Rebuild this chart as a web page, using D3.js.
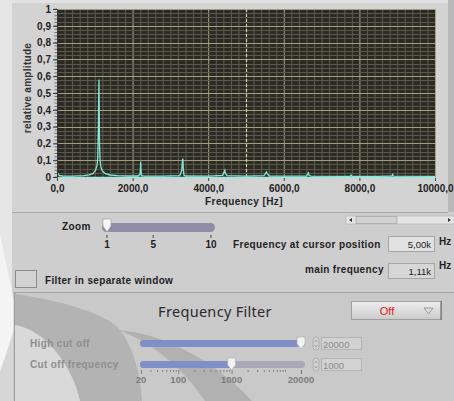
<!DOCTYPE html>
<html>
<head>
<meta charset="utf-8">
<script src="https://cdn.jsdelivr.net/npm/d3@7"></script>
<style>
  body { margin: 0; background: #cdcdcd; }
  svg { display: block; }
</style>
</head>
<body>
<svg id="chart" width="454" height="401"></svg>
<script>
// spectrum (Hz, relative amplitude)
const freqs = [0, 20, 60, 150, 400, 700, 850, 950, 1020, 1060, 1080, 1095, 1105, 1110, 1115, 1125, 1140, 1160, 1200, 1280, 1400, 1600, 1900, 2150, 2200, 2215, 2225, 2240, 2300, 2800, 3250, 3300, 3320, 3330, 3340, 3360, 3400, 4000, 4380, 4420, 4440, 4460, 4500, 5000, 5480, 5540, 5560, 5620, 6000, 6600, 6650, 6670, 6720, 7500, 7760, 7780, 7800, 8500, 8860, 8880, 8900, 10000];
const amps = [0.04, 0.02, 0.01, 0.006, 0.005, 0.008, 0.012, 0.02, 0.04, 0.07, 0.12, 0.3, 0.5, 0.58, 0.45, 0.2, 0.1, 0.06, 0.035, 0.02, 0.012, 0.008, 0.006, 0.006, 0.02, 0.09, 0.03, 0.008, 0.005, 0.005, 0.008, 0.04, 0.1, 0.11, 0.05, 0.01, 0.006, 0.005, 0.01, 0.03, 0.04, 0.02, 0.008, 0.005, 0.008, 0.03, 0.02, 0.006, 0.005, 0.006, 0.025, 0.01, 0.005, 0.004, 0.004, 0.012, 0.004, 0.004, 0.006, 0.015, 0.005, 0.004];

const xTicks = [0, 2000, 4000, 6000, 8000, 10000];
const yTicks = [0, 0.1, 0.2, 0.3, 0.4, 0.5, 0.6, 0.7, 0.8, 0.9, 1];
const cursorFreq = 5000;
const cursorText = "5,00k";
const mainFreqText = "1,11k";

const zoomTicks = [1, 5, 10];
const zoomValue = 1;
const filterLabels = [20, 100, 1000, 20000];
const highCutOff = 20000;
const cutOffFreq = 1000;

const svg = d3.select("#chart");
const bold = "'Liberation Sans', Arial, sans-serif";

// ---------- backgrounds ----------
svg.append("rect").attr("x", 0).attr("y", 0).attr("width", 454).attr("height", 401).attr("fill", "#cdcdcd");
svg.append("rect").attr("x", 0).attr("y", 0).attr("width", 12).attr("height", 401).attr("fill", "#e6e6e6");
svg.append("path").attr("d", "M0,235 L14,300 L14,401 L0,401 Z").attr("fill", "#f4f4f4");
svg.append("path").attr("d", "M0,372 L14,330 L14,401 L0,401 Z").attr("fill", "#d6d6d6");
svg.append("rect").attr("x", 12).attr("y", 0).attr("width", 436).attr("height", 212).attr("fill", "#d3d3d3");
svg.append("rect").attr("x", 12).attr("y", 0).attr("width", 436).attr("height", 3).attr("fill", "#e2e2e2");
svg.append("rect").attr("x", 448).attr("y", 0).attr("width", 6).attr("height", 212).attr("fill", "#b9b9b9");
svg.append("line").attr("x1", 12).attr("x2", 448).attr("y1", 212.5).attr("y2", 212.5).attr("stroke", "#a9a9a9");
svg.append("rect").attr("x", 12).attr("y", 213).attr("width", 442).attr("height", 79).attr("fill", "#cecece");

// lower panel with watermark swooshes
svg.append("rect").attr("x", 14).attr("y", 292).attr("width", 440).attr("height", 109).attr("fill", "#c9c9c9");
svg.append("line").attr("x1", 14).attr("x2", 454).attr("y1", 292.5).attr("y2", 292.5).attr("stroke", "#a5a5a5");
svg.append("line").attr("x1", 14.5).attr("x2", 14.5).attr("y1", 292).attr("y2", 401).attr("stroke", "#9d9d9d").attr("stroke-width", 1.5);
svg.append("path")
    .attr("d", "M15,294 C60,300 110,315 120,330 C135,350 140,375 142,401 L80,401 C72,365 45,330 15,325 Z")
    .attr("fill", "#b3b3b3");
svg.append("path")
    .attr("d", "M15,325 C45,330 72,365 80,401 L15,401 Z")
    .attr("fill", "#d9d9d9");
svg.append("path")
    .attr("d", "M117,330 C160,332 215,360 252,401 L205,401 C185,370 150,340 117,330 Z")
    .attr("fill", "#b1b1b1");

// ---------- spectrum graph ----------
const x = d3.scaleLinear().domain([0, 10000]).range([57, 435]);
const y = d3.scaleLinear().domain([0, 1]).range([177, 9]);

svg.append("rect").attr("x", x(0)).attr("y", y(1)).attr("width", x(10000) - x(0)).attr("height", y(0) - y(1))
    .attr("fill", "#2b2a25");

const grid = svg.append("g");
grid.selectAll(".vmin").data(d3.range(0, 10001, 200)).join("line")
    .attr("x1", d => x(d) + 0.5).attr("x2", d => x(d) + 0.5)
    .attr("y1", y(1)).attr("y2", y(0))
    .attr("stroke", d => d % 2000 === 0 ? "#a8a482" : "#5f5d49")
    .attr("stroke-width", 1);
grid.selectAll(".hmin").data(d3.range(0, 41).map(i => i * 0.025)).join("line")
    .attr("x1", x(0)).attr("x2", x(10000))
    .attr("y1", d => Math.round(y(d)) + 0.5).attr("y2", d => Math.round(y(d)) + 0.5)
    .attr("stroke", (d, i) => i % 4 === 0 ? "#a19e7c" : "#58574a")
    .attr("stroke-width", 1);

// cursor
svg.append("line")
    .attr("x1", x(cursorFreq) + 0.5).attr("x2", x(cursorFreq) + 0.5)
    .attr("y1", y(1)).attr("y2", y(0))
    .attr("stroke", "#d6d3a8").attr("stroke-width", 1.2).attr("stroke-dasharray", "3,2");

const line = d3.line().x((d, i) => x(freqs[i])).y(d => y(d));
svg.append("path")
    .attr("d", line(amps))
    .attr("fill", "none")
    .attr("stroke", "#86e6d6")
    .attr("stroke-width", 1.3);
svg.append("line").attr("x1", x(0)).attr("x2", x(10000)).attr("y1", y(0) + 0.5).attr("y2", y(0) + 0.5)
    .attr("stroke", "#9fe8e0").attr("stroke-width", 1.5);

// axes
const yAxis = d3.axisLeft(y).tickValues(yTicks).tickSize(4)
    .tickFormat(d => d3.format(".1~f")(d).replace(".", ","));
const gy = svg.append("g").attr("transform", `translate(${x(0)},0)`).call(yAxis);
gy.select(".domain").attr("stroke", "#333");
gy.selectAll(".tick line").attr("stroke", "#333");
gy.selectAll("text").attr("font-family", bold).attr("font-weight", "bold").attr("font-size", 10)
    .attr("fill", "#222").attr("x", -6);
svg.append("g").selectAll("line")
    .data(d3.range(0, 51).map(i => i * 0.02))
    .join("line")
    .attr("x1", x(0) - 2.5).attr("x2", x(0))
    .attr("y1", d => y(d)).attr("y2", d => y(d))
    .attr("stroke", "#444").attr("stroke-width", 0.7);

const xAxis = d3.axisBottom(x).tickValues(xTicks).tickSize(3)
    .tickFormat(d => d3.format(".1f")(d).replace(".", ","));
const gx = svg.append("g").attr("transform", `translate(0,${y(0) + 1})`).call(xAxis);
gx.select(".domain").remove();
gx.selectAll(".tick line").attr("stroke", "#444");
gx.selectAll("text").attr("font-family", bold).attr("font-weight", "bold").attr("font-size", 10)
    .attr("fill", "#222").attr("y", 7);

svg.append("text")
    .attr("transform", `translate(31,88) rotate(-90)`)
    .attr("text-anchor", "middle")
    .attr("font-family", bold).attr("font-weight", "bold").attr("font-size", 10).attr("fill", "#333")
    .attr("letter-spacing", 0.3)
    .text("relative amplitude");
svg.append("text")
    .attr("x", 244).attr("y", 205)
    .attr("text-anchor", "middle")
    .attr("font-family", bold).attr("font-weight", "bold").attr("font-size", 10).attr("fill", "#222")
    .attr("letter-spacing", 0.4)
    .text("Frequency [Hz]");

// ---------- controls ----------
const label = (txt, xx, yy, opts = {}) => svg.append("text")
    .attr("x", xx).attr("y", yy)
    .attr("text-anchor", opts.anchor || "start")
    .attr("font-family", bold).attr("font-weight", opts.weight || "bold")
    .attr("font-size", opts.size || 10).attr("fill", opts.fill || "#222")
    .attr("letter-spacing", opts.ls == null ? 0.35 : opts.ls)
    .text(txt);

// zoom slider
const zx = d3.scaleLinear().domain([1, 10]).range([107, 211]);
label("Zoom", 62, 230);
svg.append("rect").attr("x", 102).attr("y", 223).attr("width", 113).attr("height", 9).attr("rx", 4.5)
    .attr("fill", "#8e8ca6");
svg.append("path")
    .attr("d", `M${zx(zoomValue) - 4},219 L${zx(zoomValue) + 4},219 L${zx(zoomValue) + 4},226 L${zx(zoomValue)},232 L${zx(zoomValue) - 4},226 Z`)
    .attr("fill", "#f6f6f6").attr("stroke", "#9a9a9a").attr("stroke-width", 0.6);
svg.append("g").selectAll("line").data(zoomTicks).join("line")
    .attr("x1", d => zx(d)).attr("x2", d => zx(d)).attr("y1", 235).attr("y2", 238)
    .attr("stroke", "#444");
svg.append("g").selectAll("text").data(zoomTicks).join("text")
    .attr("x", d => zx(d)).attr("y", 248).attr("text-anchor", "middle")
    .attr("font-family", bold).attr("font-weight", "bold").attr("font-size", 10).attr("fill", "#222")
    .text(d => d);

// scrollbar
svg.append("rect").attr("x", 346).attr("y", 216).attr("width", 108).attr("height", 8).attr("fill", "#e4e4e4")
    .attr("stroke", "#b0b0b0").attr("stroke-width", 0.6);
svg.append("rect").attr("x", 356).attr("y", 216.5).attr("width", 41).attr("height", 7).attr("fill", "#d2d2d2")
    .attr("stroke", "#9a9a9a").attr("stroke-width", 0.6);
svg.append("path").attr("d", "M352,218 L349,220 L352,222 Z").attr("fill", "#333");
svg.append("path").attr("d", "M448,218 L451,220 L448,222 Z").attr("fill", "#333");

// readouts
label("Frequency at cursor position", 233, 248);
svg.append("rect").attr("x", 388.5).attr("y", 236.5).attr("width", 46).attr("height", 15).attr("fill", "#e1e1e1")
    .attr("stroke", "#a6a6a6");
label(cursorText, 431, 248, { anchor: "end", weight: "normal", size: 9.5, ls: 0 });
label("Hz", 439, 245, { ls: 0 });

label("main frequency", 305, 273);
svg.append("rect").attr("x", 388.5).attr("y", 263.5).attr("width", 46).attr("height", 15).attr("fill", "#d7d7d7")
    .attr("stroke", "#a6a6a6");
label(mainFreqText, 431, 275, { anchor: "end", weight: "normal", size: 9.5, ls: 0 });
label("Hz", 439, 269, { ls: 0 });

// checkbox
svg.append("rect").attr("x", 15.5).attr("y", 270.5).attr("width", 21).attr("height", 17).attr("fill", "#d2d2d2")
    .attr("stroke", "#8c8c8c");
label("Filter in separate window", 45, 284);

// Frequency Filter panel
svg.append("text").attr("x", 215).attr("y", 317).attr("text-anchor", "middle")
    .attr("font-family", "'Noto Sans', 'DejaVu Sans', sans-serif").attr("font-size", 14.5).attr("fill", "#2a2a2a")
    .attr("letter-spacing", 0.3)
    .text("Frequency Filter");

const btnGrad = svg.append("defs").append("linearGradient").attr("id", "btn").attr("x1", 0).attr("x2", 0).attr("y1", 0).attr("y2", 1);
btnGrad.append("stop").attr("offset", 0).attr("stop-color", "#efefef");
btnGrad.append("stop").attr("offset", 1).attr("stop-color", "#cacaca");
svg.append("rect").attr("x", 351.5).attr("y", 301.5).attr("width", 90).attr("height", 18).attr("fill", "url(#btn)")
    .attr("stroke", "#a0a0a0");
svg.append("line").attr("x1", 441).attr("x2", 441).attr("y1", 301).attr("y2", 320).attr("stroke", "#707070").attr("stroke-width", 1.2);
svg.append("text").attr("x", 387).attr("y", 315).attr("text-anchor", "middle")
    .attr("font-family", "'Liberation Sans', Arial, sans-serif").attr("font-size", 11).attr("fill", "#e01818")
    .text("Off");
svg.append("path").attr("d", "M424,308 L433,308 L428.5,314 Z").attr("fill", "none").attr("stroke", "#8a8a8a").attr("stroke-width", 0.8);

const fx = d3.scaleLog().domain([20, 20000]).range([141, 301]);
const faded = "#8e8e8e";
label("High cut off", 30, 347, { fill: faded });
label("Cut off frequency", 30, 368, { fill: faded });

const track = (yy, value) => {
    svg.append("rect").attr("x", 140).attr("y", yy).attr("width", 165).attr("height", 7).attr("rx", 3.5)
        .attr("fill", "#a8a8b8");
    svg.append("rect").attr("x", 140).attr("y", yy).attr("width", fx(value) - 140).attr("height", 7).attr("rx", 3.5)
        .attr("fill", "#7f90c6");
    const tx = fx(value);
    svg.append("path")
        .attr("d", `M${tx - 4},${yy - 3} L${tx + 4},${yy - 3} L${tx + 4},${yy + 4} L${tx},${yy + 9} L${tx - 4},${yy + 4} Z`)
        .attr("fill", "#f2f2f2").attr("stroke", "#a8a8a8").attr("stroke-width", 0.6);
};
track(340, highCutOff);
track(361, cutOffFreq);

// spin controls and value boxes
const spin = (yy) => {
    svg.append("rect").attr("x", 313).attr("y", yy).attr("width", 6).attr("height", 13).attr("rx", 3)
        .attr("fill", "#d0d0d0").attr("stroke", "#9c9c9c").attr("stroke-width", 0.6);
    svg.append("path").attr("d", `M314.5,${yy + 5} L316,${yy + 3} L317.5,${yy + 5}`).attr("fill", "none").attr("stroke", "#888").attr("stroke-width", 0.6);
    svg.append("path").attr("d", `M314.5,${yy + 8} L316,${yy + 10} L317.5,${yy + 8}`).attr("fill", "none").attr("stroke", "#888").attr("stroke-width", 0.6);
};
spin(337);
spin(358);
svg.append("rect").attr("x", 321.5).attr("y", 337.5).attr("width", 40).attr("height", 12).attr("fill", "#d2d2d2").attr("stroke", "#b4b4b4");
svg.append("rect").attr("x", 321.5).attr("y", 358.5).attr("width", 40).attr("height", 12).attr("fill", "#d2d2d2").attr("stroke", "#b4b4b4");
label(String(highCutOff), 323, 347.5, { weight: "normal", size: 9.5, fill: "#8a8a8a", ls: 0 });
label(String(cutOffFreq), 323, 368.5, { weight: "normal", size: 9.5, fill: "#8a8a8a", ls: 0 });

// log ticks under cut-off slider
const logTicks = [];
[20, 100, 1000, 10000].forEach(b => {
    const dec = Math.pow(10, Math.floor(Math.log10(b)));
    for (let m = b / dec; m < 10; m++) {
        const v = m * dec;
        if (v >= 20 && v <= 20000) logTicks.push(v);
    }
});
logTicks.push(20000);
svg.append("g").selectAll("line").data(logTicks).join("line")
    .attr("x1", d => fx(d) + 0.5).attr("x2", d => fx(d) + 0.5)
    .attr("y1", 370).attr("y2", d => filterLabels.includes(d) ? 374 : 372)
    .attr("stroke", "#666").attr("stroke-width", 0.7);
svg.append("g").selectAll("text").data(filterLabels).join("text")
    .attr("x", d => fx(d)).attr("y", 383).attr("text-anchor", "middle")
    .attr("font-family", bold).attr("font-weight", "bold").attr("font-size", 9.5).attr("fill", "#7a7a7a")
    .text(d => d);
</script>
</body>
</html>
